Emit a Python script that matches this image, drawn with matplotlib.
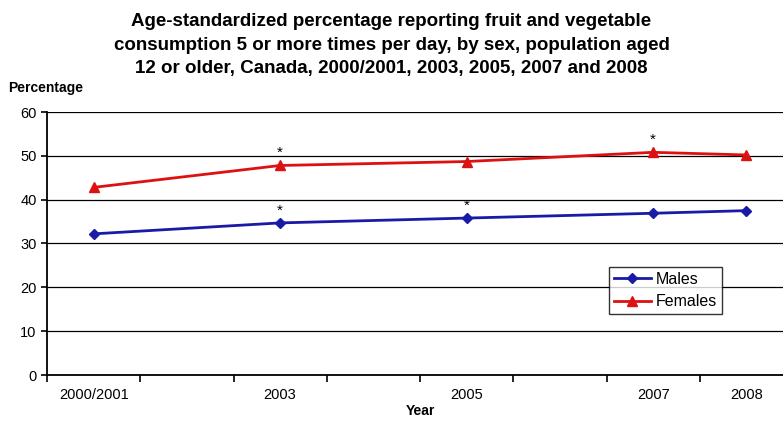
import matplotlib.pyplot as plt

# Données
years = [2001, 2003, 2005, 2007, 2008]
year_labels = ['2000/2001', '2003', '2005', '2007', '2008']
males = [32.2, 34.7, 35.8, 36.9, 37.5]
females = [42.8, 47.8, 48.7, 50.8, 50.2]
males_star = [False, True, True, False, False]
females_star = [False, True, False, True, False]

plt.rcParams['font.family'] = ['Liberation Sans', 'DejaVu Sans']

fig = plt.figure(figsize=(7.83, 4.23), dpi=100)
ax = fig.add_axes([47 / 783, 48 / 423, 746 / 783, 263 / 423])

ax.plot(years, males, color='#1a1aa8', lw=2, marker='D', ms=5, label='Males')
ax.plot(years, females, color='#dd1111', lw=2, marker='^', ms=7, label='Females')

for x, y, s in zip(years, males, males_star):
    if s:
        ax.annotate('*', (x, y), xytext=(0, 4), textcoords='offset points',
                    ha='center', va='bottom', fontsize=11)
for x, y, s in zip(years, females, females_star):
    if s:
        ax.annotate('*', (x, y), xytext=(0, 4), textcoords='offset points',
                    ha='center', va='bottom', fontsize=11)

ax.set_xlim(2000.5, 2008.5)
ax.set_ylim(0, 60)
ax.set_yticks(range(0, 61, 10))
ax.set_xticks(years)
ax.set_xticklabels(year_labels)
ax.set_xticks([y + 0.5 for y in range(2000, 2009)], minor=True)
ax.tick_params(axis='x', which='major', length=0, pad=9, labelsize=10.5)
ax.tick_params(axis='x', which='minor', length=5, width=1.2, direction='out')
ax.tick_params(axis='y', length=4, width=1.2, labelsize=10.5)
ax.yaxis.grid(True, color='black', lw=0.9)
ax.set_axisbelow(True)
for side in ['top', 'right']:
    ax.spines[side].set_visible(False)
ax.spines['left'].set_linewidth(1.3)
ax.spines['bottom'].set_linewidth(1.3)

ax.set_xlabel('Year', fontweight='bold', fontsize=10, labelpad=2)

leg = ax.legend(loc='upper left', bbox_to_anchor=(0.743, 0.44), fancybox=False,
                edgecolor='black', fontsize=11.5, handlelength=2.3,
                borderpad=0.3, labelspacing=0.45, handletextpad=0.3)
leg.get_frame().set_linewidth(1)

fig.text(0.5, 1 - 13 / 423, 'Age-standardized percentage reporting fruit and vegetable\n'
         'consumption 5 or more times per day, by sex, population aged\n'
         '12 or older, Canada, 2000/2001, 2003, 2005, 2007 and 2008',
         ha='center', va='top', fontweight='bold', fontsize=13.5, linespacing=1.5)
fig.text(8 / 783, 1 - 88 / 423, 'Percentage', fontweight='bold', fontsize=10,
         va='center', ha='left')

plt.savefig('out.png', dpi=100)
